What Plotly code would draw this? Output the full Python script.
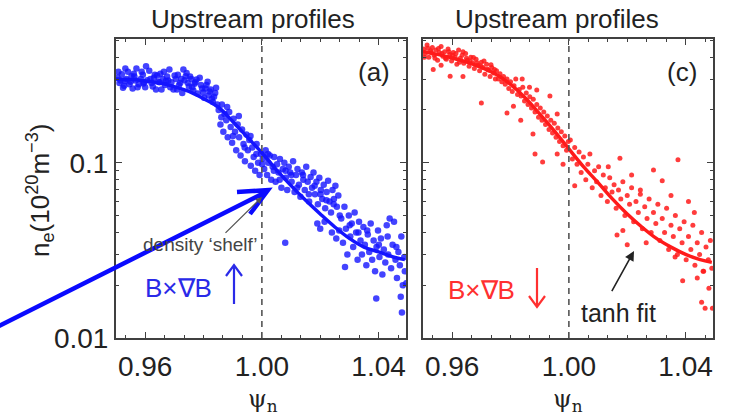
import plotly.graph_objects as go

W, H = 731, 419        # target picture size
HL = 435               # layout height (the page capture squeezes it back to 419)

# ---------------- data ----------------
# Panel (a): B x grad B up (blue)
fit_a_psi = [0.950, 0.955, 0.960, 0.965, 0.970, 0.975, 0.980, 0.985, 0.990, 0.995,
             1.000, 1.005, 1.010, 1.015, 1.020, 1.025, 1.030, 1.035, 1.040, 1.045, 1.049]
fit_a_ne = [0.300, 0.298, 0.293, 0.285, 0.272, 0.255, 0.232, 0.208, 0.172, 0.140,
            0.114, 0.091, 0.074, 0.061, 0.051, 0.043, 0.037, 0.033, 0.031, 0.029, 0.028]

pts_a_psi = [
    0.9505, 0.9512, 0.9520, 0.9528, 0.9535, 0.9541, 0.9550, 0.9557, 0.9563, 0.9570,
    0.9578, 0.9585, 0.9592, 0.9600, 0.9607, 0.9614, 0.9622, 0.9630, 0.9637, 0.9645,
    0.9652, 0.9660, 0.9668, 0.9675, 0.9683, 0.9690, 0.9697, 0.9705, 0.9712, 0.9720,
    0.9727, 0.9735, 0.9742, 0.9750, 0.9758, 0.9765, 0.9772, 0.9780, 0.9787, 0.9795,
    0.9802, 0.9810, 0.9818, 0.9825, 0.9832, 0.9840, 0.9847,
    0.9508, 0.9516, 0.9524, 0.9532, 0.9546, 0.9553, 0.9567, 0.9574, 0.9588, 0.9596,
    0.9603, 0.9618, 0.9626, 0.9641, 0.9649, 0.9656, 0.9664, 0.9679, 0.9686, 0.9701,
    0.9716, 0.9724, 0.9731, 0.9746, 0.9754, 0.9761, 0.9776, 0.9791, 0.9806, 0.9814,
    0.9821, 0.9836, 0.9843,
    0.9852, 0.9858, 0.9863, 0.9868, 0.9872, 0.9878, 0.9883, 0.9888, 0.9893, 0.9898,
    0.9903, 0.9908, 0.9912, 0.9917, 0.9922, 0.9927, 0.9932, 0.9937, 0.9942, 0.9947,
    0.9952, 0.9957, 0.9962, 0.9967, 0.9972, 0.9977, 0.9982, 0.9987, 0.9992, 0.9997,
    1.0003, 1.0008, 1.0013, 1.0018, 1.0022, 1.0027, 1.0032, 1.0037, 1.0042, 1.0047,
    1.0052, 1.0057, 1.0062, 1.0067, 1.0072, 1.0077, 1.0082, 1.0087, 1.0092, 1.0097,
    1.0102, 1.0107, 1.0112, 1.0117, 1.0122, 1.0127, 1.0132, 1.0137, 1.0142, 1.0147,
    1.0152, 1.0157, 1.0162, 1.0167, 1.0172, 1.0177, 1.0182, 1.0187, 1.0192, 1.0197,
    1.0202, 1.0207, 1.0212, 1.0217, 1.0222, 1.0227, 1.0232, 1.0237, 1.0242, 1.0247,
    1.0252, 1.0257, 1.0262, 1.0267,
    1.0080, 1.0190, 1.0200, 1.0215, 1.0240, 1.0255, 1.0265,
    1.0272, 1.0278, 1.0283, 1.0288, 1.0293, 1.0298, 1.0303, 1.0308, 1.0313, 1.0318,
    1.0323, 1.0328, 1.0333, 1.0338, 1.0343, 1.0348, 1.0353, 1.0358, 1.0363, 1.0368,
    1.0373, 1.0378, 1.0383, 1.0388, 1.0393, 1.0398, 1.0403, 1.0408, 1.0413, 1.0418,
    1.0423, 1.0428, 1.0433, 1.0438, 1.0443, 1.0448, 1.0453, 1.0458, 1.0463, 1.0468,
    1.0473, 1.0478, 1.0483, 1.0488,
    1.0285, 1.0392, 1.0480, 1.0495, 1.0476, 1.0490,
    0.9531, 0.9561, 0.9594, 0.9633, 0.9671, 0.9709, 0.9739, 0.9769, 0.9799, 0.9829,
    0.9861, 0.9881, 0.9901, 0.9921, 0.9941, 0.9961, 0.9981, 1.0001, 1.0021, 1.0041,
    1.0061, 1.0081, 1.0101, 1.0121, 1.0141, 1.0161, 1.0181, 1.0201, 1.0221, 1.0246,
    1.0301, 1.0331, 1.0361, 1.0401, 1.0431, 1.0461]
pts_a_ne = [
    0.305, 0.285, 0.320, 0.275, 0.300, 0.330, 0.290, 0.265, 0.310, 0.345,
    0.280, 0.300, 0.318, 0.270, 0.296, 0.335, 0.285, 0.305, 0.262, 0.290,
    0.322, 0.300, 0.278, 0.310, 0.340, 0.288, 0.262, 0.300, 0.318, 0.285,
    0.250, 0.296, 0.325, 0.272, 0.300, 0.258, 0.288, 0.248, 0.305, 0.265,
    0.235, 0.278, 0.242, 0.262, 0.222, 0.250, 0.215,
    0.330, 0.295, 0.268, 0.345, 0.280, 0.312, 0.295, 0.270, 0.330, 0.288,
    0.355, 0.300, 0.272, 0.315, 0.288, 0.262, 0.330, 0.295, 0.270, 0.315,
    0.278, 0.300, 0.340, 0.285, 0.310, 0.270, 0.298, 0.278, 0.265, 0.290,
    0.255, 0.238, 0.268,
    0.200, 0.165, 0.215, 0.150, 0.190, 0.175, 0.140, 0.195, 0.160, 0.130,
    0.178, 0.150, 0.118, 0.165, 0.140, 0.110, 0.155, 0.128, 0.102, 0.145,
    0.118, 0.135, 0.096, 0.122, 0.108, 0.090, 0.128, 0.100, 0.085, 0.112,
    0.105, 0.092, 0.118, 0.085, 0.100, 0.110, 0.080, 0.095, 0.108, 0.078,
    0.098, 0.088, 0.105, 0.072, 0.092, 0.100, 0.082, 0.070, 0.095, 0.088,
    0.078, 0.102, 0.068, 0.085, 0.092, 0.075, 0.064, 0.088, 0.080, 0.070,
    0.095, 0.078, 0.060, 0.083, 0.072, 0.088, 0.066, 0.078, 0.058, 0.082,
    0.070, 0.062, 0.075, 0.055, 0.068, 0.079, 0.060, 0.052, 0.070, 0.062,
    0.074, 0.056, 0.065, 0.050,
    0.035, 0.045, 0.042, 0.046, 0.040, 0.037, 0.041,
    0.048, 0.035, 0.056, 0.042, 0.030, 0.050, 0.038, 0.045, 0.033, 0.052,
    0.040, 0.028, 0.046, 0.036, 0.030, 0.043, 0.034, 0.026, 0.039, 0.031,
    0.045, 0.028, 0.036, 0.024, 0.033, 0.041, 0.029, 0.037, 0.023, 0.032,
    0.027, 0.044, 0.030, 0.048, 0.025, 0.034, 0.046, 0.028, 0.022, 0.031,
    0.026, 0.038, 0.020, 0.029,
    0.0254, 0.0168, 0.0140, 0.0205, 0.0172, 0.0240,
    0.292, 0.322, 0.283, 0.318, 0.293, 0.262, 0.312, 0.282, 0.252, 0.232,
    0.182, 0.208, 0.142, 0.185, 0.122, 0.142, 0.112, 0.098, 0.112, 0.090,
    0.080, 0.090, 0.085, 0.072, 0.085, 0.066, 0.074, 0.066, 0.061, 0.058,
    0.044, 0.040, 0.041, 0.034, 0.038, 0.033]

# Panel (c): B x grad B down (red)
fit_c_psi = [0.950, 0.955, 0.960, 0.965, 0.970, 0.975, 0.980, 0.985, 0.990, 0.995,
             1.000, 1.005, 1.010, 1.015, 1.020, 1.025, 1.030, 1.035, 1.040, 1.045, 1.049]
fit_c_ne = [0.432, 0.415, 0.396, 0.375, 0.350, 0.320, 0.280, 0.235, 0.190, 0.152,
            0.120, 0.095, 0.077, 0.062, 0.051, 0.043, 0.037, 0.033, 0.030, 0.028, 0.027]

pts_c_psi = [
    0.9503, 0.9508, 0.9514, 0.9520, 0.9526, 0.9532, 0.9538, 0.9544, 0.9550, 0.9556,
    0.9562, 0.9568, 0.9574, 0.9580, 0.9586, 0.9592, 0.9598, 0.9604, 0.9610, 0.9616,
    0.9622, 0.9628, 0.9634, 0.9640, 0.9646, 0.9652, 0.9658, 0.9664, 0.9670, 0.9676,
    0.9682, 0.9688, 0.9694, 0.9700, 0.9706, 0.9712, 0.9718, 0.9724, 0.9730, 0.9736,
    0.9742, 0.9748,
    0.9505, 0.9517, 0.9529, 0.9541, 0.9553, 0.9565, 0.9577, 0.9589, 0.9601, 0.9613,
    0.9625, 0.9637, 0.9649, 0.9661, 0.9673, 0.9685, 0.9697, 0.9709, 0.9721, 0.9733,
    0.9745,
    0.9535, 0.9593, 0.9637, 0.9700, 0.9788, 0.9562,
    0.9752, 0.9758, 0.9764, 0.9770, 0.9776, 0.9782, 0.9788, 0.9794, 0.9800, 0.9806,
    0.9812, 0.9818, 0.9824, 0.9830, 0.9836, 0.9842, 0.9848, 0.9854, 0.9860, 0.9866,
    0.9872, 0.9878, 0.9884, 0.9890, 0.9896, 0.9902, 0.9908, 0.9914, 0.9920, 0.9926,
    0.9932, 0.9938, 0.9944, 0.9950, 0.9956, 0.9962, 0.9968, 0.9974, 0.9980, 0.9986,
    0.9992, 0.9998,
    0.9884, 0.9910, 0.9877, 0.9980, 0.9960, 0.9810, 0.9835, 0.9935, 0.9890, 0.9865,
    0.9840, 0.9960,
    1.0005, 1.0012, 1.0020, 1.0028, 1.0035, 1.0042, 1.0050, 1.0058, 1.0065, 1.0072,
    1.0080, 1.0088, 1.0095, 1.0102, 1.0110, 1.0118, 1.0125, 1.0132, 1.0140, 1.0148,
    1.0155, 1.0162, 1.0170, 1.0178, 1.0185, 1.0192, 1.0200, 1.0208, 1.0215, 1.0222,
    1.0230, 1.0238, 1.0245, 1.0252, 1.0260, 1.0268, 1.0275, 1.0282, 1.0290, 1.0298,
    1.0305, 1.0312, 1.0320, 1.0328, 1.0335, 1.0342, 1.0350, 1.0358, 1.0365, 1.0372,
    1.0380, 1.0388, 1.0395, 1.0402, 1.0410, 1.0418, 1.0425, 1.0432, 1.0440, 1.0448,
    1.0455, 1.0462, 1.0470, 1.0478, 1.0485, 1.0490,
    1.0374, 1.0175, 1.0290, 1.0320, 1.0020, 1.0165, 1.0200, 1.0364, 1.0390, 1.0440,
    1.0460, 1.0467, 1.0480, 1.0492, 1.0455, 1.0245, 1.0215, 1.0135, 1.0410, 1.0430,
    1.0350, 1.0265, 1.0185]
pts_c_ne = [
    0.445, 0.420, 0.470, 0.400, 0.435, 0.455, 0.410, 0.440, 0.385, 0.425,
    0.460, 0.405, 0.430, 0.390, 0.445, 0.415, 0.380, 0.425, 0.400, 0.365,
    0.440, 0.395, 0.410, 0.370, 0.420, 0.385, 0.355, 0.400, 0.372, 0.345,
    0.390, 0.360, 0.335, 0.375, 0.350, 0.320, 0.365, 0.338, 0.310, 0.350,
    0.325, 0.300,
    0.400, 0.450, 0.425, 0.395, 0.448, 0.420, 0.395, 0.430, 0.410, 0.420,
    0.375, 0.430, 0.395, 0.380, 0.398, 0.372, 0.358, 0.380, 0.342, 0.362,
    0.340,
    0.340, 0.312, 0.310, 0.219, 0.192, 0.360,
    0.335, 0.300, 0.322, 0.290, 0.310, 0.280, 0.300, 0.265, 0.290, 0.255,
    0.275, 0.300, 0.245, 0.262, 0.240, 0.270, 0.225, 0.250, 0.215, 0.238,
    0.205, 0.230, 0.195, 0.215, 0.182, 0.205, 0.175, 0.195, 0.165, 0.185,
    0.155, 0.175, 0.148, 0.168, 0.140, 0.158, 0.132, 0.150, 0.125, 0.142,
    0.118, 0.132,
    0.112, 0.101, 0.146, 0.098, 0.112, 0.210, 0.175, 0.240, 0.260, 0.270,
    0.300, 0.190,
    0.135, 0.105, 0.122, 0.098, 0.115, 0.088, 0.108, 0.080, 0.098, 0.112,
    0.072, 0.090, 0.078, 0.095, 0.065, 0.085, 0.072, 0.060, 0.082, 0.068,
    0.075, 0.055, 0.070, 0.062, 0.078, 0.050, 0.065, 0.058, 0.072, 0.046,
    0.060, 0.052, 0.066, 0.042, 0.056, 0.048, 0.062, 0.040, 0.052, 0.045,
    0.058, 0.036, 0.048, 0.040, 0.055, 0.032, 0.044, 0.038, 0.050, 0.030,
    0.042, 0.035, 0.046, 0.028, 0.038, 0.032, 0.044, 0.026, 0.035, 0.030,
    0.040, 0.024, 0.033, 0.028, 0.036, 0.025,
    0.104, 0.106, 0.091, 0.079, 0.074, 0.0387, 0.034, 0.029, 0.0212, 0.022,
    0.024, 0.0148, 0.0192, 0.0148, 0.016, 0.070, 0.085, 0.095, 0.060, 0.052,
    0.065, 0.035, 0.041]

x_ticks = [0.96, 1.00, 1.04]
y_ticks = [0.01, 0.1]
y_tick_text = ["0.01", "0.1"]
separatrix = 1.00

# ---------------- figure ----------------
BLUE = "#1414ff"
RED = "#ff1a1a"
AX = "#404040"
TXT = "#222222"
FONT = "Liberation Sans, Arial, sans-serif"
SY = HL / H   # pixel offsets scale

def px(x):
    return x / W

def py(y):
    return 1 - y / H

fig = go.Figure()

fig.add_trace(go.Scatter(x=pts_a_psi, y=pts_a_ne, mode="markers", xaxis="x", yaxis="y",
                         marker=dict(color=BLUE, size=6.5, symbol="circle", opacity=0.8,
                                     line=dict(width=0)), showlegend=False))
fig.add_trace(go.Scatter(x=fit_a_psi, y=fit_a_ne, mode="lines", xaxis="x", yaxis="y",
                         line=dict(color=BLUE, width=3.5, shape="spline"), showlegend=False))
fig.add_trace(go.Scatter(x=pts_c_psi, y=pts_c_ne, mode="markers", xaxis="x2", yaxis="y2",
                         marker=dict(color=RED, size=5, symbol="circle", opacity=0.85,
                                     line=dict(width=0)), showlegend=False))
fig.add_trace(go.Scatter(x=fit_c_psi, y=fit_c_ne, mode="lines", xaxis="x2", yaxis="y2",
                         line=dict(color=RED, width=3.5, shape="spline"), showlegend=False))

xdom_a = [116 / W, 406 / W]
xdom_c = [423 / W, 713 / W]
ydom = [1 - 338 / H, 1 - 39 / H]

common_x = dict(range=[0.95, 1.0494], tickmode="array", tickvals=x_ticks, tickformat=".2f",
                ticks="inside", ticklen=6, tickwidth=1.3, tickcolor=AX,
                showline=True, linecolor=AX, linewidth=2, mirror="ticks",
                showgrid=False, zeroline=False,
                tickfont=dict(family=FONT, size=28, color=TXT),
                ticklabelstandoff=2,
                minor=dict(dtick=0.04 / 6, tick0=0.96, ticks="inside", ticklen=3,
                           tickwidth=1.2, tickcolor=AX, showgrid=False))
minor_y = [0.02, 0.03, 0.04, 0.05, 0.06, 0.07, 0.08, 0.09, 0.2, 0.3, 0.4, 0.5]
common_y = dict(type="log", range=[-2, -0.294], tickmode="array", tickvals=y_ticks,
                ticktext=y_tick_text, ticks="inside", ticklen=6, tickwidth=1.3,
                tickcolor=AX, showline=True, linecolor=AX, linewidth=2, mirror="ticks",
                showgrid=False, zeroline=False,
                tickfont=dict(family=FONT, size=28, color=TXT),
                minor=dict(tickmode="array", tickvals=minor_y, ticks="inside", ticklen=3,
                           tickwidth=1.2, tickcolor=AX, showgrid=False))

fig.update_layout(
    width=W, height=HL, autosize=False, margin=dict(l=0, r=0, t=0, b=0, pad=0),
    paper_bgcolor="white", plot_bgcolor="white",
    xaxis=dict(domain=xdom_a, anchor="y", **common_x),
    yaxis=dict(domain=ydom, anchor="x", **common_y),
    xaxis2=dict(domain=xdom_c, anchor="y2", **common_x),
    yaxis2=dict(domain=ydom, anchor="x2", showticklabels=False, **common_y),
)

# dashed separatrix lines
for xr, yr in (("x", "y"), ("x2", "y2")):
    fig.add_shape(type="line", xref=xr, yref=yr + " domain", x0=separatrix, x1=separatrix,
                  y0=0, y1=1, line=dict(color="#555555", width=1.6, dash="6px,5px"))

ann = []
def label(x, y, text, size, color=TXT, family=FONT, angle=0):
    ann.append(dict(x=px(x), y=py(y), xref="paper", yref="paper", text=text,
                    showarrow=False, xanchor="center", yanchor="middle",
                    textangle=angle, font=dict(family=family, size=size, color=color)))

label(253, 19, "Upstream profiles", 26)
label(557, 19, "Upstream profiles", 26)
label(374, 72, "(a)", 26)
label(682, 72, "(c)", 26)
label(263, 400, "ψ<sub>n</sub>", 24, family="DejaVu Serif, serif")
label(568, 400, "ψ<sub>n</sub>", 24, family="DejaVu Serif, serif")
label(40, 190, "n<sub>e</sub>(10<sup>20</sup>m<sup>−3</sup>)", 26, angle=-90)
label(178, 288, "B×∇B", 26, color="#2a2ae8")
label(481, 290, "B×∇B", 26, color="#ff3030")
label(200, 244, "density ‘shelf’", 19, color="#444444")
label(618, 313, "tanh fit", 25)

ann.append(dict(x=px(262), y=py(197), xref="paper", yref="paper", ax=-38, ay=36 * SY,
                axref="pixel", ayref="pixel", text="", showarrow=True, arrowhead=2,
                arrowsize=1, arrowwidth=1.3, arrowcolor="#555555"))
ann.append(dict(x=px(634), y=py(251), xref="paper", yref="paper", ax=-23, ay=40 * SY,
                axref="pixel", ayref="pixel", text="", showarrow=True, arrowhead=2,
                arrowsize=1.2, arrowwidth=1.6, arrowcolor="#222222"))
fig.update_layout(annotations=ann)

def path_line(points):
    return "M " + " L ".join(f"{px(x):.5f},{py(y):.5f}" for x, y in points)

fig.add_shape(type="path", xref="paper", yref="paper",
              path=path_line([(234, 304), (234, 266)]) + " " + path_line([(226, 276), (234, 265), (242, 276)]),
              line=dict(color="#2a2ae8", width=2.2))
fig.add_shape(type="path", xref="paper", yref="paper",
              path=path_line([(537, 268), (537, 306)]) + " " + path_line([(529, 296), (537, 307), (545, 296)]),
              line=dict(color="#ff3030", width=2.2))
fig.add_shape(type="path", xref="paper", yref="paper",
              path=path_line([(-5, 328), (266, 192)]) + " " + path_line([(237, 192), (268, 190), (250, 214)]),
              line=dict(color="#0a0aff", width=4.5))

fig.write_html(
    "out.html",
    config={"displayModeBar": False},
    post_script=("document.body.style.margin='0';document.body.style.overflow='hidden';"
                 "var gd=document.getElementById('{plot_id}');"
                 "Plotly.relayout(gd,{width:731,height:435});"))
